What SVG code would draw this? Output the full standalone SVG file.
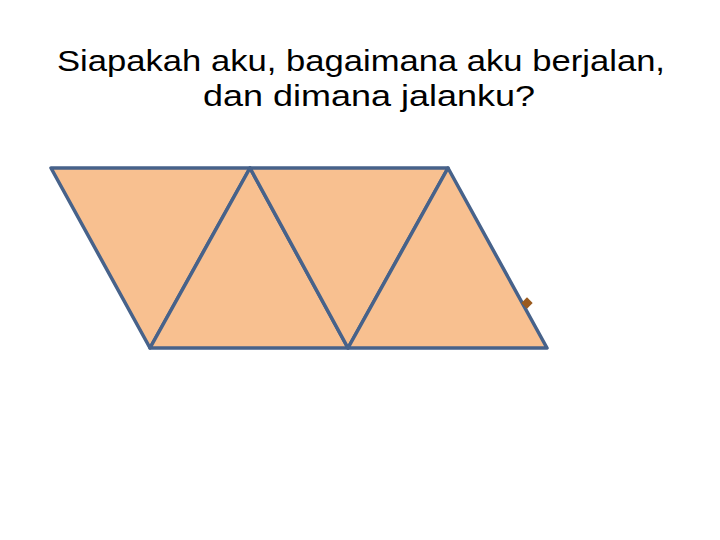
<svg xmlns="http://www.w3.org/2000/svg" width="720" height="540" viewBox="0 0 720 540">
<style>
.t{font-family:"Liberation Sans",Arial,sans-serif;font-size:30px;fill:#000}
.tri{fill:#f8c090;stroke:#47628a;stroke-width:3.5;stroke-linejoin:round}
</style>
<rect width="720" height="540" fill="#fff"/>
<g id="title">
<text class="t" x="57" y="71" textLength="608" lengthAdjust="spacingAndGlyphs">Siapakah aku, bagaimana aku berjalan,</text>
<text class="t" x="203" y="106" textLength="332" lengthAdjust="spacingAndGlyphs">dan dimana jalanku?</text>
</g>
<g id="tri1"><polygon class="tri" points="51,168 250,168 150,348"/></g>
<g id="tri2"><polygon class="tri" points="250,168 348,348 150,348"/></g>
<g id="tri3"><polygon class="tri" points="250,168 448,168 348,348"/></g>
<g id="tri4"><polygon class="tri" points="448,168 547,348 348,348"/></g>
<g id="marker"><rect x="523" y="299" width="8" height="8" fill="#9a5a1e" transform="rotate(45 527 303)"/></g>
</svg>
